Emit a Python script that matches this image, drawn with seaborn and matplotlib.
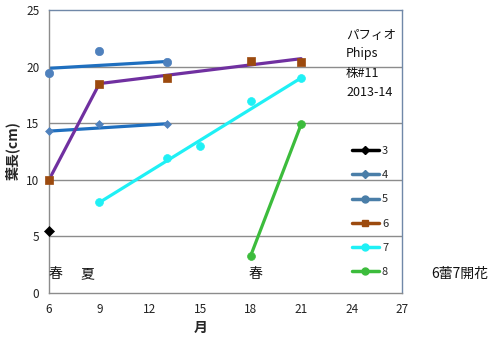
import matplotlib
matplotlib.use("Agg")
import matplotlib.pyplot as plt
from matplotlib.lines import Line2D
import numpy as np
import pandas as pd
import seaborn as sns

# measured leaf lengths (cm) per leaf number, x = month
s3_x = [6]
s3_y = [5.5]
s4_x = [6, 9, 13]
s4_y = [14.3, 14.9, 14.9]
s5_x = [6, 9, 13]
s5_y = [19.4, 21.4, 20.4]
s6_x = [6, 9, 13, 18, 21]
s6_y = [10.0, 18.5, 18.95, 20.5, 20.45]
s7_x = [9, 13, 15, 18, 21]
s7_y = [8.0, 11.9, 13.0, 17.0, 19.0]
s8_x = [18, 21]
s8_y = [3.3, 14.9]

# growth trend lines drawn over the measurements
t4_x = [6, 13]
t4_y = [14.3, 14.95]
t5_x = [6, 13]
t5_y = [19.85, 20.45]
t6_x = [6, 9, 21]
t6_y = [10.0, 18.5, 20.7]
t7_x = [9, 21]
t7_y = [8.0, 19.0]
t8_x = [18, 21]
t8_y = [3.3, 14.9]

x_ticks = [6, 9, 12, 15, 18, 21, 24, 27]
y_ticks = [0, 5, 10, 15, 20, 25]
series_labels = ["3", "4", "5", "6", "7", "8"]

sns.set_theme(style="white")
plt.rcParams["font.family"] = ["Noto Sans CJK JP", "DejaVu Sans"]

fig = plt.figure(figsize=(5.01, 3.41), dpi=100)
ax = fig.add_axes([49 / 501, 1 - 293 / 341, (402 - 49) / 501, (293 - 10) / 341])

grid_c = "#8c8c8c"
for yv in y_ticks[1:-1]:
    ax.axhline(yv, color=grid_c, lw=1.0, zorder=0)

blue_marker = "#4f81bd"
blue_line = "#1f6fbf"
brown = "#9c4a0e"
purple = "#7030a0"
cyan = "#1ff0f5"
green = "#3cbc3c"

# trend lines
trend = [
    (t4_x, t4_y, blue_line),
    (t5_x, t5_y, blue_line),
    (t6_x, t6_y, purple),
    (t7_x, t7_y, cyan),
    (t8_x, t8_y, green),
]
for tx, ty, c in trend:
    df = pd.DataFrame({"x": tx, "y": ty})
    sns.lineplot(data=df, x="x", y="y", ax=ax, color=c, lw=2.3,
                 estimator=None, sort=False, zorder=2)

# measurement markers
pts = [
    (s3_x, s3_y, "black", "D", 26),
    (s4_x, s4_y, blue_marker, "D", 16),
    (s5_x, s5_y, blue_marker, "o", 36),
    (s6_x, s6_y, brown, "s", 36),
    (s7_x, s7_y, cyan, "o", 32),
    (s8_x, s8_y, green, "o", 32),
]
for px, py, c, m, s in pts:
    df = pd.DataFrame({"x": px, "y": py})
    sns.scatterplot(data=df, x="x", y="y", ax=ax, color=c, marker=m, s=s,
                    edgecolor=c, linewidth=0.5, zorder=3)
for coll in ax.collections:
    coll.set_clip_on(False)

ax.set_xlim(6, 27)
ax.set_ylim(0, 25)
ax.set_xticks(x_ticks)
ax.set_yticks(y_ticks)
ax.set_xticklabels([str(v) for v in x_ticks], fontsize=8.5)
ax.set_yticklabels([str(v) for v in y_ticks], fontsize=8.5)
ax.tick_params(axis="both", direction="out", length=4, width=1, color=grid_c,
               pad=3, labelcolor="#222222")
ax.set_xlabel("")
ax.set_ylabel("")

for side in ["left", "bottom"]:
    ax.spines[side].set_color(grid_c)
    ax.spines[side].set_linewidth(1.0)
for side in ["top", "right"]:
    ax.spines[side].set_color("#7088a8")
    ax.spines[side].set_linewidth(1.0)

# legend
leg_style = [
    ("black", "D", 4),
    ("#4a7ea8", "D", 4),
    ("#4a7ea8", "o", 5),
    (brown, "s", 5),
    (cyan, "o", 5),
    (green, "o", 5),
]
handles = [Line2D([], [], color=c, marker=m, markersize=ms, lw=2.5)
           for c, m, ms in leg_style]
leg = ax.legend(handles, series_labels, loc="upper left", frameon=False,
                fontsize=8, handlelength=2.4, handletextpad=0.3,
                labelspacing=1.28, borderaxespad=0, borderpad=0)
leg.set_bbox_to_anchor((352 / 501, 1 - 146 / 341), transform=fig.transFigure)

# plant annotation
for txt, yy in [("パフィオ", 35), ("Phips", 54), ("株#11", 73), ("2013-14", 92)]:
    fig.text(346 / 501, 1 - yy / 341, txt, fontsize=9, ha="left",
             va="center", color="#111111")

# season marks
ax.text(6.36, 1.68, "春", fontsize=10, ha="center", va="center", color="#111111")
ax.text(8.26, 1.68, "夏", fontsize=10, ha="center", va="center", color="#111111")
ax.text(18.3, 1.68, "春", fontsize=10, ha="center", va="center", color="#111111")
fig.text(460 / 501, 1 - 274 / 341, "6蕾7開花", fontsize=10, ha="center",
         va="center", color="#111111")

fig.text(201 / 501, 1 - 328 / 341, "月", fontsize=10, fontweight="bold",
         ha="center", va="center")
fig.text(12 / 501, 1 - 151 / 341, "葉長(cm)", fontsize=10, fontweight="bold",
         ha="center", va="center", rotation=90)

fig.savefig("out.png", dpi=100, facecolor="white")
